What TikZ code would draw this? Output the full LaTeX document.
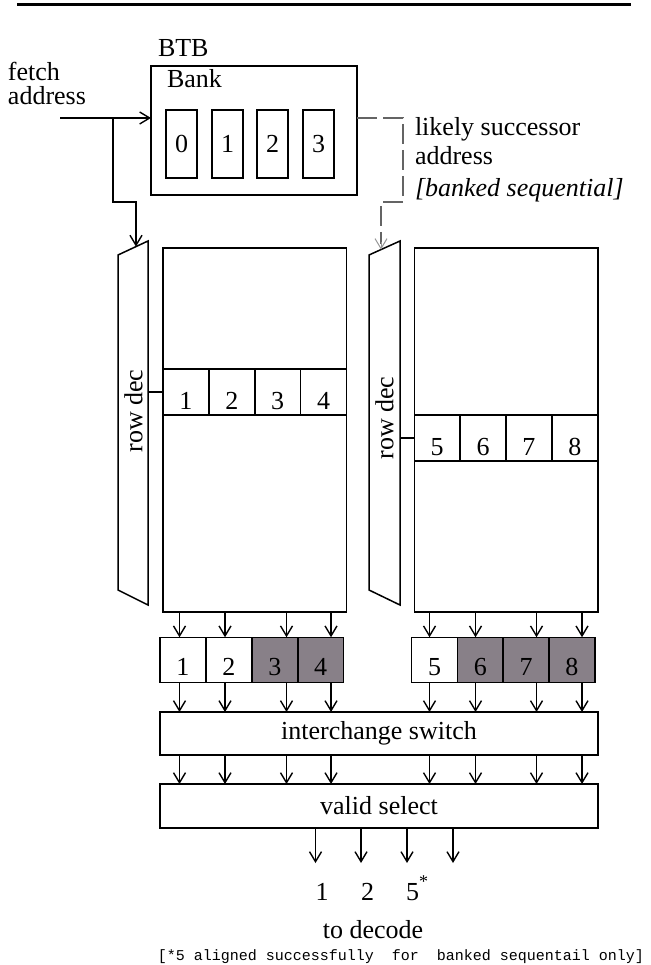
\documentclass[tikz,border=0pt]{standalone}
\usepackage{fontspec}
\setmainfont{Liberation Serif}
\setmonofont{Liberation Mono}
\usetikzlibrary{arrows.meta,calc}
\definecolor{cellgray}{RGB}{136,128,136}
\definecolor{dashgray}{RGB}{100,100,100}
\definecolor{tipgray}{RGB}{150,150,150}
\begin{document}
\begin{tikzpicture}[x=1pt,y=-1pt,line width=1.5pt,
  every node/.style={inner sep=0pt,outer sep=0pt,font=\fontsize{26}{29}\selectfont},
  arr/.style={-{Straight Barb[length=10pt,width=12pt,line width=1.4pt]}},
  btbcell/.style={draw,minimum width=31pt,minimum height=68pt},
  rowcell/.style={draw,fill=white,minimum width=45.875pt,minimum height=46pt,text height=35pt,text depth=0pt},
  regcell/.style={draw,minimum width=45.9pt,minimum height=45pt,text height=31pt,text depth=0pt},
  graycell/.style={regcell,fill=cellgray},
  bigbox/.style={draw,minimum width=438pt},
  array/.style={draw,minimum width=183.5pt,minimum height=364pt},
  dashline/.style={draw=dashgray,line width=1.2pt,dash pattern=on 20pt off 6pt}
]
\useasboundingbox (0,0) rectangle (650,965);
% top rule
\draw[line width=3.5pt] (17,4.5) -- (631,4.5);

% BTB
\node[anchor=base west] (btblabel) at (158,56.5) {BTB};
\node[draw,minimum width=206pt,minimum height=129pt] (btb) at (254,130.5) {};
\node[anchor=base west] (bank) at (167,88) {Bank};
\node[btbcell] (b0) at (181.5,144) {0};
\node[btbcell] (b1) at (227.5,144) {1};
\node[btbcell] (b2) at (272.5,144) {2};
\node[btbcell] (b3) at (318.5,144) {3};

% fetch address
\node[anchor=base west] (fetch1) at (8,81) {fetch};
\node[anchor=base west] (fetch2) at (8,105) {address};
\coordinate (fa) at (60,118);
\coordinate (fb) at (113,118);
\draw[arr] (fa) -- (fa -| btb.west);

% row decoders
\coordinate (rdLtl) at (118,255);
\coordinate (rdLtr) at (148,241);
\coordinate (rdLbr) at (148,605);
\coordinate (rdLbl) at (118,590);
\draw (rdLtl) -- (rdLtr) -- (rdLbr) -- (rdLbl) -- cycle;
\node[rotate=90] (rdLtext) at (133.5,411) {row dec};

\coordinate (rdRtl) at (369,255);
\coordinate (rdRtr) at (400,241);
\coordinate (rdRbr) at (400,605);
\coordinate (rdRbl) at (369,590);
\draw (rdRtl) -- (rdRtr) -- (rdRbr) -- (rdRbl) -- cycle;
\node[rotate=90] (rdRtext) at (384.5,418) {row dec};

% fetch branch to left row dec
\coordinate (rdLin) at ($(rdLtl)!0.6!(rdLtr)$);
\draw[arr] (fb) -- (fb |- 0,202) -- (rdLin |- 0,202) -- (rdLin);

% likely successor (dashed)
\coordinate (rdRin) at ($(rdRtl)!0.387!(rdRtr)$);
\draw[dashline] (btb.east |- fa) -- (403,118) -- (403,202) -- (rdRin |- 0,202) -- ($(rdRin)+(0,-6)$);
\draw[draw=tipgray,line width=1pt,-{Straight Barb[length=10pt,width=12pt,line width=1pt]}] ($(rdRin)+(0,-8)$) -- (rdRin);
\node[anchor=north west,align=left,font=\fontsize{26}{29}\selectfont] (likely) at (415,117)
  {likely successor\\address\\[3pt]\textit{[banked sequential]}};

% arrays
\node[array] (arrL) at (254.75,430) {};
\node[array] (arrR) at (506,430) {};
\node[rowcell] (rowL1) at (185.94,392) {1};
\node[rowcell] (rowL2) at (231.81,392) {2};
\node[rowcell] (rowL3) at (277.69,392) {3};
\node[rowcell] (rowL4) at (323.56,392) {4};
\node[rowcell] (rowR1) at (437.19,438) {5};
\node[rowcell] (rowR2) at (483.06,438) {6};
\node[rowcell] (rowR3) at (528.94,438) {7};
\node[rowcell] (rowR4) at (574.81,438) {8};
\draw (rdLtr |- rowL1.west) -- (rowL1.west);
\draw (rdRtr |- rowR1.west) -- (rowR1.west);

% registers
\node[regcell] (regL1) at (182.96,659.75) {1};
\node[regcell] (regL2) at (228.89,659.75) {2};
\node[graycell] (regL3) at (274.8,659.75) {3};
\node[graycell] (regL4) at (320.7,659.75) {4};
\node[regcell] (regR1) at (434.5,659.75) {5};
\node[graycell] (regR2) at (480.3,659.75) {6};
\node[graycell] (regR3) at (526.1,659.75) {7};
\node[graycell] (regR4) at (571.9,659.75) {8};

% switch and select
\node[bigbox,minimum height=43pt] (isw) at (379,733.5) {interchange switch};
\node[bigbox,minimum height=44pt] (vsel) at (379,806) {valid select};

% columns
\coordinate (c1) at (179.5,0);
\coordinate (c2) at (225,0);
\coordinate (c3) at (286.5,0);
\coordinate (c4) at (331,0);
\coordinate (c5) at (429.5,0);
\coordinate (c6) at (475.5,0);
\coordinate (c7) at (536.5,0);
\coordinate (c8) at (582,0);
\foreach \c/\a/\r in {c1/arrL/regL1,c2/arrL/regL2,c3/arrL/regL3,c4/arrL/regL4,c5/arrR/regR1,c6/arrR/regR2,c7/arrR/regR3,c8/arrR/regR4}{
  \draw[arr] (\c |- \a.south) -- (\c |- \r.north);
  \draw[arr] (\c |- \r.south) -- (\c |- isw.north);
  \draw[arr] (\c |- isw.south) -- (\c |- vsel.north);
}

% outputs
\coordinate (o1) at (315.5,863);
\coordinate (o2) at (361,863);
\coordinate (o3) at (407,863);
\coordinate (o4) at (453,863);
\foreach \o in {o1,o2,o3,o4}{
  \draw[arr] (\o |- vsel.south) -- (\o);
}
\node[anchor=base] (l1) at (322,900) {1};
\node[anchor=base] (l2) at (367.6,900) {2};
\node[anchor=base west] (l5) at (406.2,900) {5\raisebox{13pt}{\fontsize{18}{18}\selectfont *}};
\node[anchor=base] (todec) at (373,938) {to decode};
\node[anchor=base,font=\fontsize{15}{15}\ttfamily] (foot) at (401,960)
  {[*5 aligned successfully\ \ for\ \ banked sequentail only]};
\end{tikzpicture}
\end{document}
